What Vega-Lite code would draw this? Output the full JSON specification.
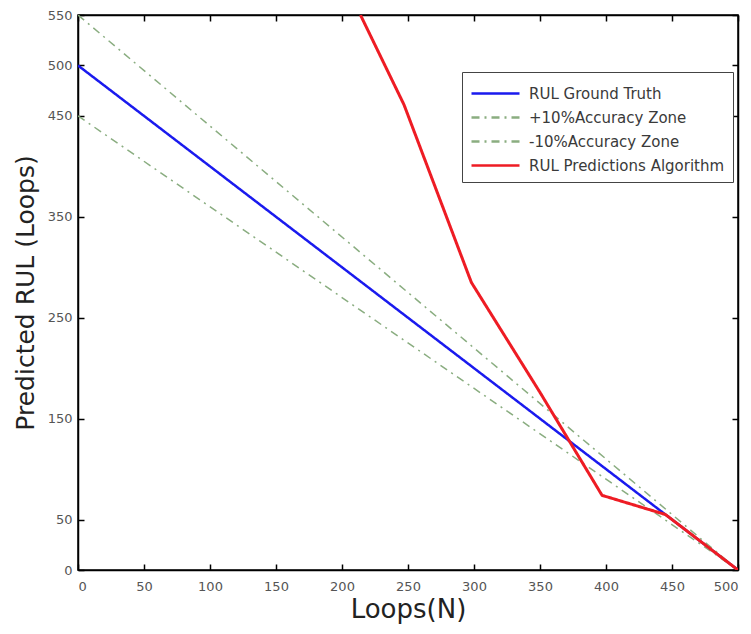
{
  "$schema": "https://vega.github.io/schema/vega-lite/v6.json",
  "autosize": "none",
  "width": 660,
  "height": 555,
  "padding": {"left": 78, "top": 15, "right": 13, "bottom": 64},
  "background": "white",
  "config": {
    "view": {"stroke": "black", "strokeWidth": 1.5},
    "font": "DejaVu Sans",
    "axis": {
      "domainColor": "black",
      "domainWidth": 1.5,
      "tickColor": "black",
      "tickWidth": 1.5,
      "tickSize": -6,
      "labelColor": "#555555",
      "labelFontSize": 13,
      "labelFont": "DejaVu Sans",
      "titleFont": "DejaVu Sans",
      "titleFontWeight": "normal",
      "titleColor": "#222222",
      "grid": false
    }
  },
  "data": {
    "values": [
      {"x": 0, "y": 500, "series": "RUL Ground Truth"},
      {"x": 500, "y": 0, "series": "RUL Ground Truth"},
      {"x": 0, "y": 550, "series": "+10%Accuracy Zone"},
      {"x": 500, "y": 0, "series": "+10%Accuracy Zone"},
      {"x": 0, "y": 450, "series": "-10%Accuracy Zone"},
      {"x": 500, "y": 0, "series": "-10%Accuracy Zone"},
      {"x": 214, "y": 550, "series": "RUL Predictions Algorithm"},
      {"x": 247, "y": 461, "series": "RUL Predictions Algorithm"},
      {"x": 298, "y": 285, "series": "RUL Predictions Algorithm"},
      {"x": 350, "y": 176, "series": "RUL Predictions Algorithm"},
      {"x": 397, "y": 74, "series": "RUL Predictions Algorithm"},
      {"x": 445, "y": 55, "series": "RUL Predictions Algorithm"},
      {"x": 500, "y": 0, "series": "RUL Predictions Algorithm"}
    ]
  },
  "layer": [
    {
      "mark": {"type": "line", "clip": true},
      "encoding": {
        "x": {
          "field": "x", "type": "quantitative",
          "scale": {"domain": [0, 500], "nice": false},
          "axis": {"orient": "bottom", "title": "Loops(N)", "titleFontSize": 26, "values": [0, 50, 100, 150, 200, 250, 300, 350, 400, 450, 500], "labelPadding": 16, "titlePadding": 3}
        },
        "y": {
          "field": "y", "type": "quantitative",
          "scale": {"domain": [0, 550], "nice": false},
          "axis": {"orient": "left", "title": "Predicted RUL (Loops)", "titleFontSize": 25, "values": [0, 50, 150, 250, 350, 450, 500, 550], "labelPadding": 12, "titlePadding": 9}
        },
        "color": {
          "field": "series", "type": "nominal",
          "scale": {
            "domain": ["RUL Ground Truth", "+10%Accuracy Zone", "-10%Accuracy Zone", "RUL Predictions Algorithm"],
            "range": ["#1a1aee", "#8aad80", "#8aad80", "#ee1c24"]
          },
          "legend": {
            "title": null,
            "orient": "none",
            "legendX": 384,
            "legendY": 57,
            "symbolType": "M-1,0H3",
            "symbolSize": 576,
            "symbolStrokeWidth": 2.5,
            "labelFontSize": 15,
            "labelColor": "#3a3a3a",
            "labelFont": "DejaVu Sans",
            "labelOffset": 32,
            "rowPadding": 2,
            "fillColor": "white",
            "strokeColor": "#444444",
            "padding": 8,
            "labelLimit": 300
          }
        },
        "strokeDash": {
          "field": "series", "type": "nominal",
          "scale": {
            "domain": ["RUL Ground Truth", "+10%Accuracy Zone", "-10%Accuracy Zone", "RUL Predictions Algorithm"],
            "range": [[1, 0], [8, 5, 2, 5], [8, 5, 2, 5], [1, 0]]
          },
          "legend": null
        },
        "strokeWidth": {
          "condition": [
            {"test": "datum.series === 'RUL Predictions Algorithm'", "value": 3},
            {"test": "indexof(datum.series, 'Accuracy') >= 0", "value": 1.5}
          ],
          "value": 2.5
        },
        "order": {"field": "x", "type": "quantitative"}
      }
    },
    {
      "mark": {"type": "point", "opacity": 0},
      "encoding": {
        "x": {
          "field": "x", "type": "quantitative",
          "scale": {"domain": [0, 500], "nice": false},
          "axis": {"orient": "top", "title": null, "labels": false, "values": [0, 50, 100, 150, 200, 250, 300, 350, 400, 450, 500]}
        },
        "y": {
          "field": "y", "type": "quantitative",
          "scale": {"domain": [0, 550], "nice": false},
          "axis": {"orient": "right", "title": null, "labels": false, "values": [0, 50, 150, 250, 350, 450, 500, 550]}
        }
      }
    }
  ],
  "resolve": {"axis": {"x": "independent", "y": "independent"}}
}
